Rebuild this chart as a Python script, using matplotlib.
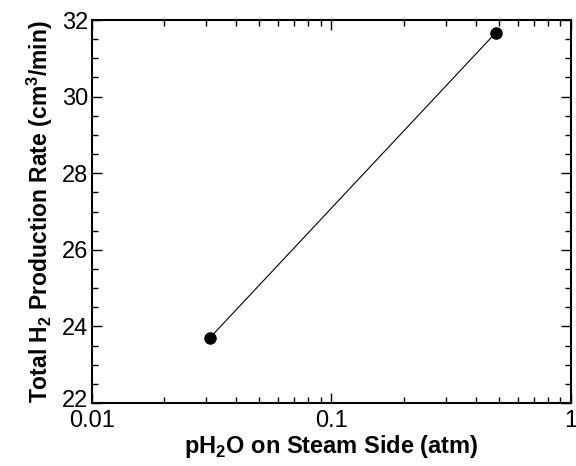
import matplotlib
matplotlib.use("Agg")
import matplotlib.pyplot as plt
import matplotlib.transforms as mtransforms
from matplotlib.ticker import LogLocator, MultipleLocator, FixedLocator, FixedFormatter, NullFormatter

plt.rcParams['font.family'] = ['Liberation Sans', 'DejaVu Sans']
plt.rcParams['mathtext.fontset'] = 'custom'
plt.rcParams['mathtext.rm'] = 'Liberation Sans:bold'
plt.rcParams['mathtext.bf'] = 'Liberation Sans:bold'

ph2o = [0.031, 0.486]
h2_rate = [23.7, 31.67]
xticks = [0.01, 0.1, 1]
xticklabels = ["0.01", "0.1", "1"]
yticks = [22, 24, 26, 28, 30, 32]

fig = plt.figure(figsize=(5.76, 4.66), dpi=100)
ax = fig.add_axes([0.160, 0.135, 0.831, 0.822])
ax.plot(ph2o, h2_rate, color='black', linewidth=0.8, marker='o', markersize=8)
ax.set_xscale('log')
ax.set_xlim(0.01, 1)
ax.set_ylim(22, 32)
ax.xaxis.set_major_locator(FixedLocator(xticks))
ax.xaxis.set_major_formatter(FixedFormatter(xticklabels))
ax.xaxis.set_minor_locator(LogLocator(base=10, subs=range(2, 10)))
ax.xaxis.set_minor_formatter(NullFormatter())
ax.yaxis.set_major_locator(FixedLocator(yticks))
ax.yaxis.set_minor_locator(MultipleLocator(0.5))
ax.tick_params(which='both', direction='in', top=True, right=True, labelsize=17, width=1)
ax.tick_params(axis='y', pad=3)
ax.tick_params(axis='x', pad=5)
ax.tick_params(which='major', length=7)
ax.tick_params(which='minor', length=4)
for s in ax.spines.values():
    s.set_linewidth(1.5)
ax.set_xlabel(r'pH$_\mathbf{2}$O on Steam Side (atm)', fontsize=17, fontweight='bold', labelpad=1)
ax.set_ylabel(r'Total H$_\mathbf{2}$ Production Rate (cm$^\mathbf{3}$/min)', fontsize=16.5, fontweight='bold', labelpad=5)

fig.canvas.draw()
shift = mtransforms.ScaledTranslation(0, 5 / 100, fig.dpi_scale_trans)
lbl = ax.yaxis.get_major_ticks()[0].label1
lbl.set_transform(lbl.get_transform() + shift)
fig.savefig('out.png', dpi=100)
